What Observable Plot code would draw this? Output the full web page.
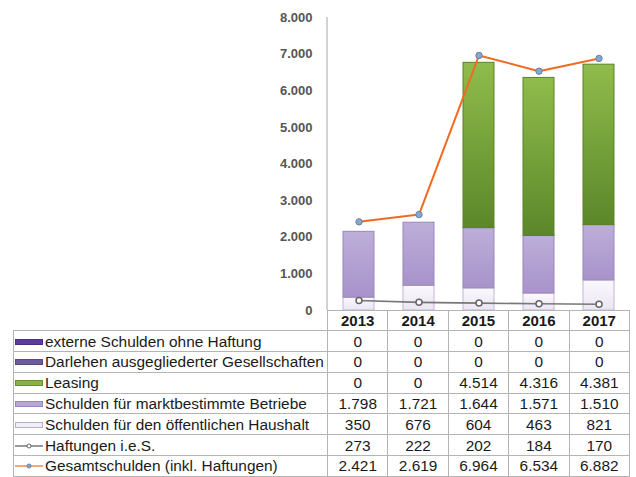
<!DOCTYPE html>
<html><head><meta charset="utf-8">
<script src="https://cdn.jsdelivr.net/npm/d3@7"></script>
<script src="https://cdn.jsdelivr.net/npm/@observablehq/plot@0.6"></script>
<style>
body{margin:0;background:#fff;font-family:"Liberation Sans",Arial,sans-serif;}
#wrap{position:relative;width:636px;height:477px;overflow:hidden;background:#fff;}
#chart{position:absolute;left:0;top:0;}
table{position:absolute;left:13px;top:309.5px;border-collapse:collapse;table-layout:fixed;width:616px;font-size:15.4px;color:#1a1a1a;}
td{border:1px solid #b4b4b4;padding:0;height:19.8px;line-height:19px;text-align:center;white-space:nowrap;overflow:hidden;}
td.lab{text-align:left;padding-left:1px;}
tr.head td{font-weight:bold;font-size:15px;}
tr.head td.empty{border:none;}
.sw{display:inline-block;width:28px;height:6px;margin-right:2px;vertical-align:middle;box-sizing:border-box;position:relative;top:-1px;}
svg.lsw{vertical-align:middle;margin-right:2px;position:relative;top:-1px;}
</style></head><body><div id="wrap"><div id="chart"></div></div>
<script>
const years = ["2013", "2014", "2015", "2016", "2017"];
const labels = [
  "externe Schulden ohne Haftung",
  "Darlehen ausgegliederter Gesellschaften",
  "Leasing",
  "Schulden für marktbestimmte Betriebe",
  "Schulden für den öffentlichen Haushalt",
  "Haftungen i.e.S.",
  "Gesamtschulden (inkl. Haftungen)"
];
const externe = [0, 0, 0, 0, 0];
const darlehen = [0, 0, 0, 0, 0];
const leasing = [0, 0, 4514, 4316, 4381];
const marktbestimmt = [1798, 1721, 1644, 1571, 1510];
const haushalt = [350, 676, 604, 463, 821];
const haftungen = [273, 222, 202, 184, 170];
const gesamt = [2421, 2619, 6964, 6534, 6882];
const yTicks = [0, 1000, 2000, 3000, 4000, 5000, 6000, 7000, 8000];

const de = d3.formatLocale({decimal: ",", thousands: ".", grouping: [3], currency: ["", " €"]});
const fmt = de.format(",");

// styles per series (not data)
const fills = {
  haushalt: "url(#gHaus)", markt: "url(#gMarkt)", leasing: "url(#gLeas)",
  darlehen: "#6e5a99", externe: "#5a3c9c"
};
const strokes = {
  haushalt: "#c2b6d6", markt: "#9886bb", leasing: "#5b8129",
  darlehen: "#5a4880", externe: "#48307f"
};

// stacked bars, bottom to top
const stackOrder = [
  ["haushalt", haushalt], ["markt", marktbestimmt], ["leasing", leasing],
  ["darlehen", darlehen], ["externe", externe]
];
const barData = [];
for (const [key, arr] of stackOrder) {
  years.forEach((y, i) => barData.push({year: y, series: key, value: arr[i]}));
}
const haftData = years.map((y, i) => ({year: y, value: haftungen[i]}));
const gesamtData = years.map((y, i) => ({year: y, value: gesamt[i]}));

function defsMark() {
  const defs = d3.create("svg:defs");
  const grads = [
    ["gLeas", [["0%", "#90bc4c"], ["100%", "#5b872a"]]],
    ["gMarkt", [["0%", "#bdaed9"], ["100%", "#a893ca"]]],
    ["gHaus", [["0%", "#fbf9fd"], ["100%", "#ebe5f2"]]]
  ];
  for (const [id, stops] of grads) {
    const g = defs.append("linearGradient").attr("id", id)
      .attr("x1", 0).attr("y1", 0).attr("x2", 0).attr("y2", 1);
    for (const [o, c] of stops) g.append("stop").attr("offset", o).attr("stop-color", c);
  }
  return defs.node();
}

function axisLine(index, scales, values, dimensions) {
  const x = dimensions.marginLeft;
  return d3.create("svg:line")
    .attr("x1", x).attr("x2", x)
    .attr("y1", scales.y(d3.max(yTicks)))
    .attr("y2", dimensions.height - dimensions.marginBottom)
    .attr("stroke", "#b4b4b4").attr("stroke-width", 1.2).node();
}

const chart = Plot.plot({
  width: 636,
  height: 330,
  marginLeft: 327,
  marginRight: 7,
  marginTop: 17,
  marginBottom: 20,
  style: {fontFamily: "'Liberation Sans', Arial, sans-serif", background: "transparent", overflow: "visible"},
  x: {type: "band", domain: years, paddingInner: 0.49, paddingOuter: 0.245, axis: null},
  y: {domain: [0, 8000], axis: null},
  color: {type: "identity"},
  marks: [
    defsMark,
    Plot.barY(barData.filter(d => d.value > 0), Plot.stackY({
      x: "year", y: "value", z: "series", order: null,
      fill: d => fills[d.series], stroke: d => strokes[d.series], strokeWidth: 1
    })),
    Plot.axisY({ticks: yTicks, tickFormat: fmt, tickSize: 0, tickPadding: 15,
      fontSize: 13, fontWeight: "bold", color: "#555", label: null}),
    axisLine,
    Plot.line(haftData, {x: "year", y: "value", stroke: "#777", strokeWidth: 1.6}),
    Plot.dot(haftData, {x: "year", y: "value", r: 3, fill: "#fff", stroke: "#666", strokeWidth: 1.5}),
    Plot.line(gesamtData, {x: "year", y: "value", stroke: "#f26a21", strokeWidth: 2}),
    Plot.dot(gesamtData, {x: "year", y: "value", r: 3.2, fill: "#8ba7c8", stroke: "#6583a8", strokeWidth: 1})
  ]
});
document.getElementById("chart").appendChild(chart);

// data table with legend keys
const rows = [externe, darlehen, leasing, marktbestimmt, haushalt, haftungen, gesamt];
const swatch = [
  {fill: "#5a3c9c", stroke: "#48307f"},
  {fill: "#6e5a99", stroke: "#5a4880"},
  {fill: "#8bb241", stroke: "#6a8f31"},
  {fill: "#b7a6d6", stroke: "#9886bb"},
  {fill: "#f1edf6", stroke: "#b8b0c8"},
  {line: "#777", mfill: "#fff", mstroke: "#666", r: 2},
  {line: "#f28a4a", mfill: "#8ba7c8", mstroke: "#6583a8", r: 2}
];
const table = d3.select("#wrap").append("table");
const cg = table.append("colgroup");
cg.append("col").style("width", "314px");
years.forEach(() => cg.append("col").style("width", "60.4px"));
const head = table.append("tr").attr("class", "head");
head.append("td").attr("class", "empty");
years.forEach(y => head.append("td").text(y));
rows.forEach((arr, i) => {
  const tr = table.append("tr");
  const lab = tr.append("td").attr("class", "lab");
  const s = swatch[i];
  if (s.line) {
    const svg = lab.append("svg").attr("class", "lsw").attr("width", 28).attr("height", 10);
    svg.append("line").attr("x1", 0).attr("x2", 28).attr("y1", 5).attr("y2", 5)
      .attr("stroke", s.line).attr("stroke-width", 1.5);
    svg.append("circle").attr("cx", 14).attr("cy", 5).attr("r", s.r)
      .attr("fill", s.mfill).attr("stroke", s.mstroke).attr("stroke-width", 1);
  } else {
    lab.append("span").attr("class", "sw")
      .style("background", s.fill).style("border", "1px solid " + s.stroke);
  }
  lab.append("span").text(labels[i]);
  arr.forEach(v => tr.append("td").text(fmt(v)));
});
</script>
</body></html>
